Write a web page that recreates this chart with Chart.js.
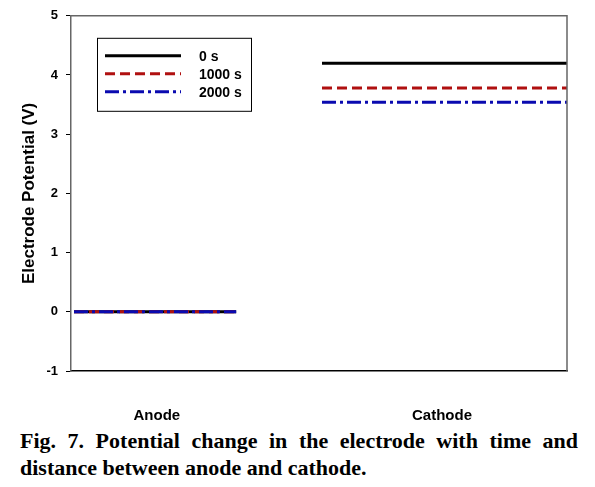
<!DOCTYPE html>
<html>
<head>
<meta charset="utf-8">
<script src="https://cdn.jsdelivr.net/npm/chart.js@4/dist/chart.umd.min.js"></script>
<style>
  body { margin: 0; background: #fff; }
  .chart-container { position: absolute; left: 0; top: 0; width: 595px; height: 420px; }
  .caption {
    position: absolute; left: 20px; top: 427px; width: 558px;
    font-family: "Liberation Serif", "Times New Roman", serif;
    font-weight: bold; font-size: 22px; line-height: 27px;
    text-align: justify; text-align-last: left; color: #000;
  }
</style>
</head>
<body>
<div class="chart-container"><canvas id="potentialChart" width="595" height="420"></canvas></div>
<div class="caption">Fig. 7. Potential change in the electrode with time and distance between anode and cathode.</div>
<script>
// electrode regions along the cell (relative distance)
const regionLabels = ['Anode', 'Cathode'];
const regionLabelPos = [0.173, 0.748];
const anodeSpan = [0.006, 0.333];
const cathodeSpan = [0.506, 1.0];

// potential (V) at anode / cathode for each time
const seriesNames = ['0 s', '1000 s', '2000 s'];
const potential0 = [0, 4.2];
const potential1000 = [0, 3.78];
const potential2000 = [0, 3.54];

const yTicks = [-1, 0, 1, 2, 3, 4, 5];

function segments(vals) {
    return [
        { x: anodeSpan[0], y: vals[0] },
        { x: anodeSpan[1], y: vals[0] },
        { x: (anodeSpan[1] + cathodeSpan[0]) / 2, y: null },
        { x: cathodeSpan[0], y: vals[1] },
        { x: cathodeSpan[1], y: vals[1] }
    ];
}

const frameAndLegend = {
    id: 'frameAndLegend',
    afterDraw(chart) {
        const ctx = chart.ctx;
        const a = chart.chartArea;
        ctx.save();
        // top and right frame
        ctx.strokeStyle = '#666';
        ctx.lineWidth = 1.5;
        ctx.beginPath();
        ctx.moveTo(a.left, a.top);
        ctx.lineTo(a.right, a.top);
        ctx.lineTo(a.right, a.bottom);
        ctx.stroke();

        // legend box
        const bx = a.left + 26, by = a.top + 22, bw = 154, bh = 73;
        ctx.fillStyle = '#fff';
        ctx.fillRect(bx, by, bw, bh);
        ctx.strokeStyle = '#000';
        ctx.lineWidth = 1;
        ctx.strokeRect(bx + 0.5, by + 0.5, bw, bh);
        ctx.font = 'bold 14px "Liberation Sans", Arial, sans-serif';
        ctx.textBaseline = 'middle';
        chart.data.datasets.forEach((ds, i) => {
            const ly = by + 18 + i * 18;
            ctx.strokeStyle = ds.borderColor;
            ctx.lineWidth = ds.borderWidth;
            ctx.setLineDash(ds.borderDash || []);
            ctx.beginPath();
            ctx.moveTo(bx + 8, ly);
            ctx.lineTo(bx + 84, ly);
            ctx.stroke();
            ctx.setLineDash([]);
            ctx.fillStyle = '#000';
            ctx.fillText(ds.label, bx + 102, ly + 1);
        });
        ctx.restore();
    }
};

document.addEventListener('DOMContentLoaded', () => {
    const ctx = document.getElementById('potentialChart').getContext('2d');
    new Chart(ctx, {
        type: 'line',
        data: {
            datasets: [
                { label: seriesNames[0], data: segments(potential0), borderColor: '#000000', borderWidth: 3, order: 2 },
                { label: seriesNames[1], data: segments(potential1000), borderColor: '#b01010', borderWidth: 3, borderDash: [10, 5], order: 1 },
                { label: seriesNames[2], data: segments(potential2000), borderColor: '#0a0ab0', borderWidth: 3, borderDash: [14, 4, 3, 4], order: 0 }
            ]
        },
        options: {
            responsive: false,
            animation: false,
            spanGaps: false,
            elements: { point: { radius: 0 }, line: { tension: 0, borderCapStyle: 'butt' } },
            layout: { padding: { left: 0, right: 28, top: 15, bottom: 0 } },
            scales: {
                x: {
                    type: 'linear',
                    min: 0,
                    max: 1,
                    afterBuildTicks: (scale) => { scale.ticks = regionLabelPos.map(v => ({ value: v })); },
                    afterFit: (scale) => { scale.height = 49; },
                    ticks: {
                        callback: (v, i) => regionLabels[i],
                        color: '#000',
                        padding: 28,
                        maxRotation: 0,
                        autoSkip: false,
                        font: { family: '"Liberation Sans", Arial, sans-serif', weight: 'bold', size: 15 }
                    },
                    grid: { display: false },
                    border: { display: true, color: '#000', width: 1.5 }
                },
                y: {
                    min: -1,
                    max: 5,
                    afterBuildTicks: (scale) => { scale.ticks = yTicks.map(v => ({ value: v })); },
                    afterFit: (scale) => { scale.width = 71; },
                    ticks: {
                        color: '#000',
                        padding: 8,
                        font: { family: '"Liberation Sans", Arial, sans-serif', weight: 'bold', size: 13 }
                    },
                    grid: { drawOnChartArea: false, drawTicks: true, tickLength: 5, color: '#000' },
                    border: { display: true, color: '#666', width: 1.5 },
                    title: {
                        display: true,
                        text: 'Electrode Potential (V)',
                        color: '#000',
                        padding: { top: 19, bottom: 0 },
                        font: { family: '"Liberation Sans", Arial, sans-serif', weight: 'bold', size: 17 }
                    }
                }
            },
            plugins: {
                legend: { display: false },
                tooltip: { enabled: false }
            }
        },
        plugins: [frameAndLegend]
    });
});
</script>
</body>
</html>
